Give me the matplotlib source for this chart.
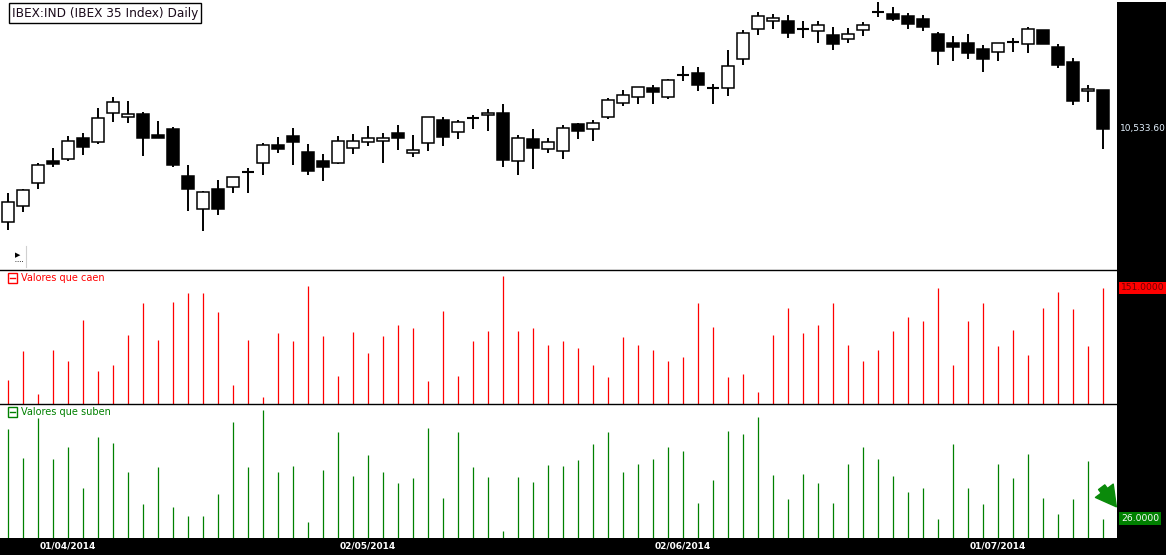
import matplotlib
matplotlib.use('Agg')
import matplotlib.pyplot as plt
import matplotlib.transforms as mtransforms
from matplotlib.patches import Rectangle, FancyArrowPatch
from matplotlib.lines import Line2D
import numpy as np
import pandas as pd

# IBEX 35 daily candles, 26/03/2014 - 10/07/2014
holidays = ['2014-04-18', '2014-04-21', '2014-05-01']
dates = pd.bdate_range('2014-03-26', '2014-07-10').drop(pd.to_datetime(holidays))

opens = [9974, 10070, 10208, 10340, 10352, 10478, 10454, 10628, 10604, 10622,
         10496, 10532, 10250, 10052, 10172, 10184, 10274, 10328, 10436, 10490,
         10394, 10340, 10328, 10418, 10454, 10460, 10508, 10388, 10448, 10586,
         10514, 10598, 10616, 10628, 10340, 10472, 10412, 10400, 10562, 10532,
         10604, 10688, 10724, 10778, 10724, 10856, 10868, 10778, 10778, 10952,
         11132, 11180, 11180, 11132, 11120, 11096, 11072, 11126, 11234, 11222,
         11210, 11192, 11102, 11048, 11048, 11012, 10994, 11054, 11042, 11126,
         11024, 10934, 10760, 10766]
highs = [10148, 10172, 10328, 10418, 10490, 10508, 10658, 10724, 10700, 10634,
         10580, 10544, 10316, 10160, 10226, 10244, 10298, 10448, 10484, 10538,
         10442, 10382, 10490, 10502, 10550, 10508, 10556, 10496, 10604, 10604,
         10586, 10616, 10652, 10682, 10496, 10532, 10478, 10556, 10568, 10586,
         10718, 10766, 10784, 10796, 10832, 10910, 10904, 10802, 11006, 11126,
         11234, 11222, 11216, 11180, 11180, 11144, 11138, 11174, 11294, 11264,
         11228, 11216, 11114, 11090, 11102, 11036, 11048, 11078, 11144, 11126,
         11042, 10958, 10796, 10766]
lows = [9926, 10034, 10172, 10304, 10340, 10376, 10442, 10574, 10568, 10370,
        10478, 10304, 10040, 9920, 10016, 10148, 10148, 10256, 10388, 10316,
        10256, 10220, 10322, 10382, 10430, 10328, 10406, 10364, 10400, 10430,
        10472, 10532, 10520, 10304, 10256, 10292, 10388, 10352, 10472, 10460,
        10592, 10670, 10682, 10682, 10712, 10820, 10760, 10682, 10730, 10916,
        11096, 11132, 11078, 11078, 11048, 11006, 11048, 11090, 11204, 11180,
        11132, 11120, 10916, 10940, 10952, 10874, 10940, 10994, 10988, 11042,
        10898, 10676, 10694, 10412]
closes = [10094, 10166, 10316, 10322, 10460, 10424, 10598, 10694, 10622, 10478,
          10478, 10316, 10172, 10154, 10052, 10244, 10274, 10436, 10412, 10454,
          10280, 10304, 10460, 10460, 10478, 10478, 10478, 10406, 10604, 10484,
          10574, 10598, 10628, 10346, 10478, 10418, 10454, 10538, 10520, 10568,
          10706, 10736, 10784, 10754, 10826, 10856, 10796, 10778, 10910, 11108,
          11210, 11198, 11108, 11132, 11156, 11042, 11102, 11156, 11234, 11192,
          11162, 11144, 11000, 11024, 10988, 10952, 11048, 11054, 11132, 11042,
          10916, 10700, 10772, 10533.6]

# breadth: number of stocks falling / rising each day
falling = [31, 69, 13, 70, 56, 109, 43, 51, 90, 131,
           83, 133, 144, 144, 120, 25, 83, 9, 92, 82,
           153, 88, 36, 94, 66, 88, 103, 99, 30, 121,
           36, 82, 95, 166, 95, 99, 77, 82, 73, 51,
           35, 87, 77, 70, 56, 61, 131, 100, 35, 39,
           16, 90, 125, 92, 103, 131, 77, 56, 70, 95,
           113, 108, 151, 51, 108, 131, 75, 96, 64, 125,
           146, 124, 75, 151]
rising = [146, 107, 160, 105, 122, 67, 135, 127, 88, 45,
          95, 41, 30, 30, 59, 155, 95, 171, 88, 96,
          21, 91, 142, 83, 111, 88, 73, 80, 147, 53,
          142, 95, 81, 9, 81, 75, 97, 96, 104, 126,
          142, 88, 99, 105, 122, 116, 47, 77, 143, 139,
          162, 84, 52, 85, 73, 47, 99, 122, 105, 83,
          61, 67, 25, 126, 67, 45, 99, 80, 112, 53,
          32, 52, 103, 26]

W, H = 1166, 555


def fx(px):
    return px / W


def fy(py):
    return 1 - py / H


opens = np.array(opens, dtype=float)
highs = np.array(highs, dtype=float)
lows = np.array(lows, dtype=float)
closes = np.array(closes, dtype=float)
x = np.arange(len(dates))

fig = plt.figure(figsize=(W / 100, H / 100), dpi=100)
fig.patch.set_facecolor('white')

ax_p = fig.add_axes([0, fy(270), fx(1117), 270 / H])
ax_r = fig.add_axes([0, fy(404), fx(1117), 134 / H])
ax_g = fig.add_axes([0, fy(538), fx(1117), 134 / H])

for ax in (ax_p, ax_r, ax_g):
    ax.set_xlim(-8 / 15, 1109 / 15)
    ax.set_xticks([])
    ax.set_yticks([])
    for s in ax.spines.values():
        s.set_visible(False)
for ax in (ax_r, ax_g):
    ax.spines['top'].set_visible(True)
    ax.spines['top'].set_linewidth(1.0)

# candles
up = closes >= opens
ax_p.vlines(x, lows, highs, color='black', lw=1.4, zorder=1)
ax_p.bar(x, closes - opens, bottom=opens, width=0.8,
         color=np.where(up, 'white', 'black'), edgecolor='black',
         linewidth=1.1, zorder=2)
doji = np.abs(closes - opens) < 1
ax_p.hlines(opens[doji], x[doji] - 0.4, x[doji] + 0.4, color='black', lw=1.5, zorder=3)
ax_p.set_ylim(9686, 11306)

ax_r.vlines(x, 0, falling, color='#ff0000', lw=0.9)
ax_r.set_ylim(0, 174.2)
ax_g.vlines(x, 0, rising, color='#008000', lw=0.9)
ax_g.set_ylim(0, 179.2)

# right and bottom black strips
fig.add_artist(Rectangle((fx(1117), 0), 49 / W, 553 / H, transform=fig.transFigure,
                         fc='black', ec='none', zorder=1))
fig.add_artist(Rectangle((0, 0), 1, 17 / H, transform=fig.transFigure,
                         fc='black', ec='none', zorder=1))

# month labels on first trading day of each month
first = pd.Series(x, index=dates).groupby([dates.year, dates.month]).first()
tr_date = mtransforms.blended_transform_factory(ax_g.transData, fig.transFigure)
for pos in first.values:
    if pos == 0:
        continue
    fig.text(pos, fy(546), dates[pos].strftime('%d/%m/%Y'), transform=tr_date,
             color='white', fontsize=6.5, fontweight='bold', ha='center', va='center', zorder=5)

# last value labels
tr_p = mtransforms.blended_transform_factory(fig.transFigure, ax_p.transData)
fig.text(fx(1120), closes[-1], f'{closes[-1]:,.2f}', transform=tr_p, color='#e4f2ff',
         fontsize=6.5, ha='left', va='center', zorder=5)
tr_r = mtransforms.blended_transform_factory(fig.transFigure, ax_r.transData)
fig.text(fx(1121), falling[-1], f'{falling[-1]:.4f}', transform=tr_r, color='#6e0000',
         fontsize=6.6, ha='left', va='center', zorder=5,
         bbox=dict(boxstyle='square,pad=0.2', fc='#ff0000', ec='none'))
tr_g = mtransforms.blended_transform_factory(fig.transFigure, ax_g.transData)
fig.text(fx(1121), rising[-1], f'{rising[-1]:.4f}', transform=tr_g, color='white',
         fontsize=6.6, ha='left', va='center', zorder=5,
         bbox=dict(boxstyle='square,pad=0.2', fc='#008000', ec='none'))

arrow = FancyArrowPatch((fx(1100), fy(485)), (fx(1118), fy(509)), transform=fig.transFigure,
                        arrowstyle='simple,head_length=0.9,head_width=1.0,tail_width=0.35',
                        mutation_scale=16, color='#0a8a0a', zorder=6)
fig.add_artist(arrow)

# title box
fig.text(fx(12), fy(13), 'IBEX:IND (IBEX 35 Index) Daily', fontsize=8.7, color='#1a0a1a',
         ha='left', va='center',
         bbox=dict(boxstyle='square,pad=0.25', fc='white', ec='black', lw=1))

# small play button
fig.text(fx(15), fy(255), '\u25b6', fontsize=5, color='black', ha='left', va='center')
fig.add_artist(Line2D([fx(15), fx(23)], [fy(261), fy(261)], transform=fig.transFigure,
                      color='black', lw=0.6, ls=':'))
fig.add_artist(Line2D([fx(26), fx(26)], [fy(246), fy(267)], transform=fig.transFigure,
                      color='#d0d0d0', lw=0.8))

# series legends
for ytop, col, label in [(273, '#ff0000', 'Valores que caen'), (407, '#008000', 'Valores que suben')]:
    fig.add_artist(Rectangle((fx(8), fy(ytop + 10)), 9 / W, 10 / H, transform=fig.transFigure,
                             fill=False, ec=col, lw=1))
    fig.add_artist(Line2D([fx(10), fx(15)], [fy(ytop + 5), fy(ytop + 5)],
                          transform=fig.transFigure, color=col, lw=1))
    fig.text(fx(21), fy(ytop + 5), label, color=col, fontsize=7.0, ha='left', va='center')

fig.savefig('out.png', dpi=100, facecolor='white')
